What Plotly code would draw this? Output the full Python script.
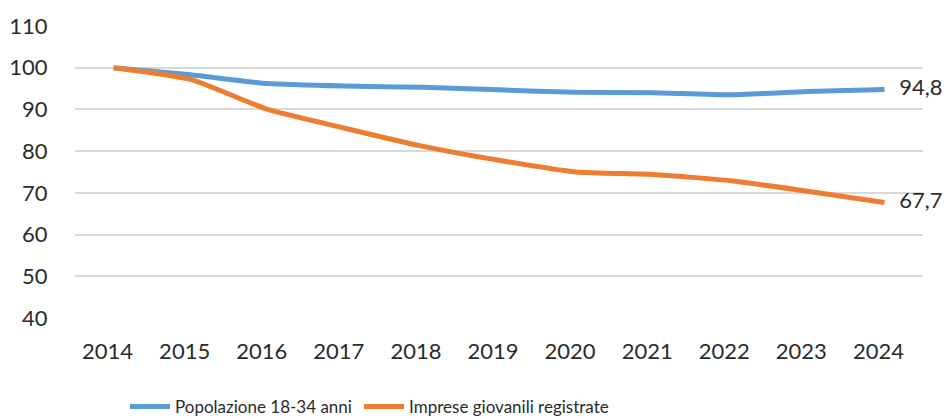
import plotly.graph_objects as go

years = ["2014", "2015", "2016", "2017", "2018", "2019", "2020", "2021", "2022", "2023", "2024"]
popolazione = [100.0, 98.3, 96.2, 95.6, 95.3, 94.7, 94.1, 94.0, 93.5, 94.3, 94.8]
imprese = [100.0, 97.2, 90.0, 85.5, 81.2, 77.8, 75.0, 74.4, 72.9, 70.4, 67.7]
names = ["Popolazione 18-34 anni", "Imprese giovanili registrate"]
colors = ["#5B9BD5", "#ED7D31"]
y_ticks = [40, 50, 60, 70, 80, 90, 100, 110]

FONT = "Lato"
TXT = "#2b2b2b"

fig = go.Figure()
for i, (vals, name, col) in enumerate(zip([popolazione, imprese], names, colors)):
    fig.add_trace(go.Scatter(
        x=years, y=vals, name=name, mode="lines",
        line=dict(color=col, width=5, shape="spline", smoothing=0.5),
        hoverinfo="x+y", legend="legend" if i == 0 else "legend2",
    ))
for vals in [popolazione, imprese]:
    fig.add_trace(go.Scatter(
        x=[years[-1]], y=[vals[-1]], mode="markers+text",
        marker=dict(size=22, opacity=0),
        text=[f"{vals[-1]:.1f}".replace(".", ",")], textposition="middle right",
        textfont=dict(family=FONT, size=22, color=TXT),
        showlegend=False, cliponaxis=False, hoverinfo="skip",
    ))

leg_common = dict(orientation="h", xanchor="left", y=-0.305, yanchor="middle",
                  font=dict(family=FONT, size=17, color=TXT),
                  itemwidth=40, bgcolor="rgba(0,0,0,0)")
fig.update_layout(
    width=947, height=419,
    margin=dict(l=75, r=24, t=26, b=101, autoexpand=False),
    paper_bgcolor="white", plot_bgcolor="white",
    font=dict(family=FONT, size=22, color=TXT),
    showlegend=True,
    legend=dict(x=0.059, **leg_common),
    legend2=dict(x=0.335, **leg_common),
)
fig.update_xaxes(
    type="category", range=[-0.5, 10.5], showgrid=False, zeroline=False,
    showline=False, ticks="outside", ticklen=14, tickcolor="rgba(0,0,0,0)",
    ticklabelshift=-6,
    tickfont=dict(family=FONT, size=22, color=TXT), automargin=False,
)
fig.update_yaxes(
    range=[40, 110], tickvals=y_ticks, showgrid=True, gridcolor="#D9D9D9", gridwidth=1.5,
    zeroline=False, showline=False, ticks="outside", ticklen=22, tickcolor="rgba(0,0,0,0)",
    tickfont=dict(family=FONT, size=22, color=TXT), automargin=False,
)

fig.write_html("out.html", config={"displayModeBar": False},
               post_script="document.body.style.margin='0';")
